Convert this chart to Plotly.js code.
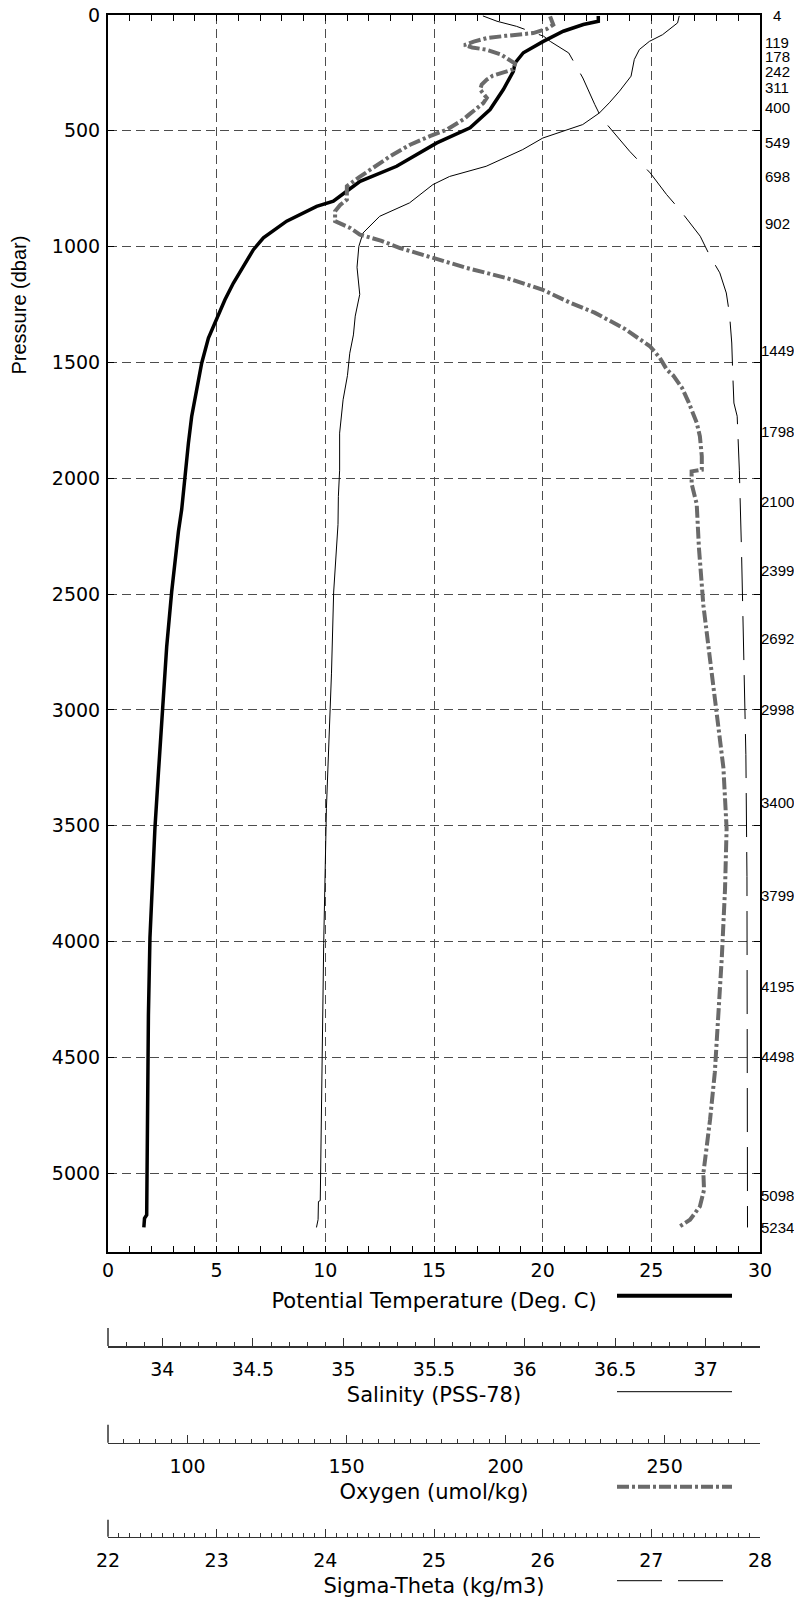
<!DOCTYPE html>
<html>
<head>
<meta charset="utf-8">
<script src="https://cdn.plot.ly/plotly-3.0.1.min.js"></script>
<style>html,body{margin:0;padding:0;background:#fff;}#chart{width:794px;height:1606px;}</style>
</head>
<body>
<div id="chart"></div>
<script>
const tempPressure = [4, 27, 41, 70, 114, 163, 207, 243, 322, 408, 487, 552, 653, 718, 761, 804, 826, 890, 962, 1013, 1085, 1157, 1229, 1315, 1395, 1503, 1618, 1733, 1848, 1999, 2135, 2230, 2490, 2728, 3035, 3272, 3510, 3746, 3984, 4315, 4884, 5180, 5195, 5234];
const potentialTemperature = [22.56, 22.56, 21.87, 20.95, 20.03, 19.11, 18.73, 18.65, 18.19, 17.58, 16.66, 15.13, 13.28, 11.60, 10.98, 10.37, 9.60, 8.22, 7.15, 6.69, 6.23, 5.77, 5.38, 5.00, 4.62, 4.31, 4.08, 3.85, 3.70, 3.55, 3.39, 3.24, 2.93, 2.70, 2.47, 2.32, 2.16, 2.04, 1.93, 1.86, 1.79, 1.78, 1.68, 1.65];

const salPressure = [4, 34, 85, 114, 149, 192, 264, 329, 379, 423, 473, 531, 581, 653, 697, 732, 811, 869, 941, 999, 1089, 1206, 1300, 1381, 1460, 1557, 1661, 1731, 1805, 1965, 2078, 2199, 2491, 2841, 3133, 3425, 4009, 4447, 4885, 5118, 5122, 5200, 5234];
const salinity = [36.854, 36.845, 36.762, 36.689, 36.634, 36.606, 36.588, 36.524, 36.468, 36.413, 36.321, 36.101, 35.990, 35.788, 35.586, 35.494, 35.365, 35.200, 35.108, 35.085, 35.075, 35.090, 35.065, 35.055, 35.035, 35.022, 34.998, 34.989, 34.979, 34.979, 34.972, 34.970, 34.946, 34.934, 34.920, 34.906, 34.891, 34.884, 34.878, 34.872, 34.862, 34.860, 34.851];

const oxyPressure = [6, 42, 60, 78, 90, 100, 115, 130, 140, 150, 170, 190, 210, 235, 250, 262, 279, 300, 322, 345, 358, 380, 400, 430, 451, 480, 495, 523, 560, 610, 667, 700, 739, 797, 820, 847, 890, 919, 948, 975, 1006, 1049, 1071, 1092, 1136, 1185, 1240, 1285, 1355, 1430, 1480, 1531, 1556, 1610, 1670, 1760, 1819, 1905, 1963, 1970, 2024, 2111, 2300, 2549, 2783, 3016, 3250, 3512, 3775, 4067, 4301, 4564, 4768, 4899, 5000, 5072, 5143, 5201, 5234];
const oxygen = [214.0, 215.0, 213.0, 208.7, 200.0, 194.0, 190.0, 187.0, 189.5, 194.0, 198.5, 201.0, 203.0, 202.4, 199.0, 196.0, 194.1, 192.5, 192.0, 193.5, 194.1, 193.0, 191.0, 188.5, 186.7, 183.0, 181.5, 176.2, 170.0, 163.7, 157.4, 154.0, 150.1, 150.1, 148.0, 146.4, 146.4, 151.1, 154.2, 161.0, 166.8, 177.3, 182.5, 187.8, 200.4, 211.5, 220.0, 228.0, 237.5, 245.4, 248.5, 250.7, 252.7, 255.5, 257.5, 260.1, 261.1, 261.7, 261.7, 258.5, 258.5, 260.1, 260.8, 262.2, 264.3, 266.4, 268.5, 269.5, 269.0, 268.0, 266.9, 265.8, 264.3, 263.2, 262.2, 262.4, 261.1, 258.0, 254.3];

const sigPressure = [4, 27, 49, 92, 114, 164, 222, 272, 387, 444, 588, 682, 775, 840, 955, 1041, 1113, 1200, 1294, 1416, 1557, 1675, 1732, 1965, 2316, 2696, 3193, 3719, 5234];
const sigmaTheta = [25.45, 25.58, 25.76, 26.01, 26.07, 26.24, 26.31, 26.37, 26.48, 26.54, 26.80, 26.99, 27.14, 27.26, 27.45, 27.54, 27.63, 27.69, 27.72, 27.74, 27.75, 27.76, 27.79, 27.81, 27.83, 27.85, 27.87, 27.88, 27.885];

const bottlePressures = [4, 119, 178, 242, 311, 400, 549, 698, 902, 1449, 1798, 2100, 2399, 2692, 2998, 3400, 3799, 4195, 4498, 5098, 5234];

const pressureTicks = [0, 500, 1000, 1500, 2000, 2500, 3000, 3500, 4000, 4500, 5000];
const temperatureTicks = [0, 5, 10, 15, 20, 25, 30];
const salinityTicks = [34, 34.5, 35, 35.5, 36, 36.5, 37];
const oxygenTicks = [100, 150, 200, 250];
const sigmaTicks = [22, 23, 24, 25, 26, 27, 28];

// ---- Styling ----
const TXT = 'DejaVu Sans, Liberation Sans, Arial, sans-serif';
const GRID = '#4d4d4d';
const OXY = '#6a6a6a';

const traces = [
  {x: oxygen, y: oxyPressure, xaxis: 'x3', yaxis: 'y', mode: 'lines', name: 'Oxygen',
   line: {color: OXY, width: 4, dash: '12px,3px,3px,3px'}, hoverinfo: 'skip'},
  {x: sigmaTheta, y: sigPressure, xaxis: 'x4', yaxis: 'y', mode: 'lines', name: 'Sigma-Theta',
   line: {color: '#000', width: 1, dash: '44px,15px'}, hoverinfo: 'skip'},
  {x: salinity, y: salPressure, xaxis: 'x2', yaxis: 'y', mode: 'lines', name: 'Salinity',
   line: {color: '#000', width: 1}, hoverinfo: 'skip'},
  {x: potentialTemperature, y: tempPressure, xaxis: 'x', yaxis: 'y', mode: 'lines', name: 'Potential Temperature',
   line: {color: '#000', width: 3.5}, hoverinfo: 'skip'}
];

const H = 1606, T = 15, PH = H - T; // paper height (margin.b = 0)
const py = v => (H - v) / PH;       // pixel row -> paper fraction

function freeAxis(range, ticks, minorDtick, tick0, title, pos) {
  return {
    overlaying: 'x', anchor: 'free', position: pos, side: 'bottom',
    range: range, autorange: false,
    tickmode: 'array', tickvals: ticks, ticktext: ticks.map(String),
    ticks: 'inside', ticklen: 8, tickwidth: 1, tickcolor: '#333',
    minor: {ticks: 'inside', dtick: minorDtick, tick0: tick0, ticklen: 4, tickwidth: 1, tickcolor: '#333', showgrid: false},
    showline: true, linecolor: '#333', linewidth: 1.5,
    showgrid: false, zeroline: false,
    tickfont: {family: TXT, size: 19, color: '#000'},
    ticklabelstandoff: 6,
    title: {text: title, font: {family: TXT, size: 21, color: '#000'}, standoff: 8},
    automargin: false
  };
}

const legendKey = (yPix, color, width, dash) => ({
  type: 'line', xref: 'paper', yref: 'paper', x0: (617 - 108) / 652, x1: (732 - 108) / 652,
  y0: py(yPix), y1: py(yPix), line: {color: color, width: width, dash: dash}
});
const endTick = (yPix, len) => ({
  type: 'line', xref: 'paper', yref: 'paper', x0: 0, x1: 0,
  y0: py(yPix), y1: py(yPix - len), line: {color: '#333', width: 1.5}
});

const annotations = bottlePressures.map(p => ({
  xref: 'paper', yref: 'y', x: (777.5 - 108) / 652, y: p, xanchor: 'center', yanchor: 'middle',
  text: String(p), showarrow: false,
  font: {family: 'Liberation Sans Narrow, Liberation Sans, Arial Narrow, sans-serif', size: 15, color: '#000'}
}));
annotations.push({
  xref: 'paper', yref: 'paper', x: (18.5 - 108) / 652, y: py(305), xanchor: 'center', yanchor: 'middle',
  text: 'Pressure (dbar)', textangle: -90, showarrow: false,
  font: {family: 'Liberation Sans, Arial, sans-serif', size: 20, color: '#000'}
});

const layout = {
  width: 794, height: 1606,
  margin: {l: 108, r: 34, t: T, b: 0, pad: 0},
  paper_bgcolor: '#fff', plot_bgcolor: '#fff',
  showlegend: false,
  font: {family: TXT, size: 19, color: '#000'},
  xaxis: {
    domain: [0, 1], range: [0, 30], autorange: false, anchor: 'y', side: 'bottom',
    tickmode: 'array', tickvals: temperatureTicks, ticktext: temperatureTicks.map(String),
    ticks: 'inside', ticklen: 6, tickwidth: 1, tickcolor: '#000',
    minor: {ticks: 'inside', dtick: 1, tick0: 0, ticklen: 6, tickwidth: 1, tickcolor: '#000', showgrid: false},
    showline: true, linecolor: '#000', linewidth: 2, mirror: 'ticks',
    showgrid: true, gridcolor: GRID, gridwidth: 1, griddash: '9px,5px', zeroline: false,
    tickfont: {family: TXT, size: 19, color: '#000'},
    title: {text: 'Potential Temperature (Deg. C)', font: {family: TXT, size: 21, color: '#000'}, standoff: 14},
    automargin: false
  },
  yaxis: {
    domain: [py(1252), 1], range: [5340, 0], autorange: false, anchor: 'x',
    tickmode: 'array', tickvals: pressureTicks, ticktext: pressureTicks.map(String),
    ticks: 'inside', ticklen: 6, tickwidth: 1, tickcolor: '#000',
    showline: true, linecolor: '#000', linewidth: 2, mirror: 'ticks',
    showgrid: true, gridcolor: GRID, gridwidth: 1, griddash: '9px,5px', zeroline: false,
    tickfont: {family: TXT, size: 19, color: '#000'},
    ticklabelstandoff: 2,
    automargin: false
  },
  xaxis2: freeAxis([33.7, 37.3], salinityTicks, 0.1, 34, 'Salinity (PSS-78)', py(1346)),
  xaxis3: freeAxis([75, 280], oxygenTicks, 5, 100, 'Oxygen (umol/kg)', py(1442.7)),
  xaxis4: freeAxis([22, 28], sigmaTicks, 0.1, 22, 'Sigma-Theta (kg/m3)', py(1536.7)),
  shapes: [
    legendKey(1295.7, '#000', 4, 'solid'),
    legendKey(1391.7, '#000', 1, 'solid'),
    legendKey(1486.7, OXY, 4, '12px,3px,3px,3px'),
    legendKey(1580.7, '#000', 1, '45px,16px'),
    endTick(1346, 18),
    endTick(1442.7, 18),
    endTick(1536.7, 17)
  ],
  annotations: annotations
};

Plotly.newPlot('chart', traces, layout, {staticPlot: true, displayModeBar: false});
</script>
</body>
</html>
